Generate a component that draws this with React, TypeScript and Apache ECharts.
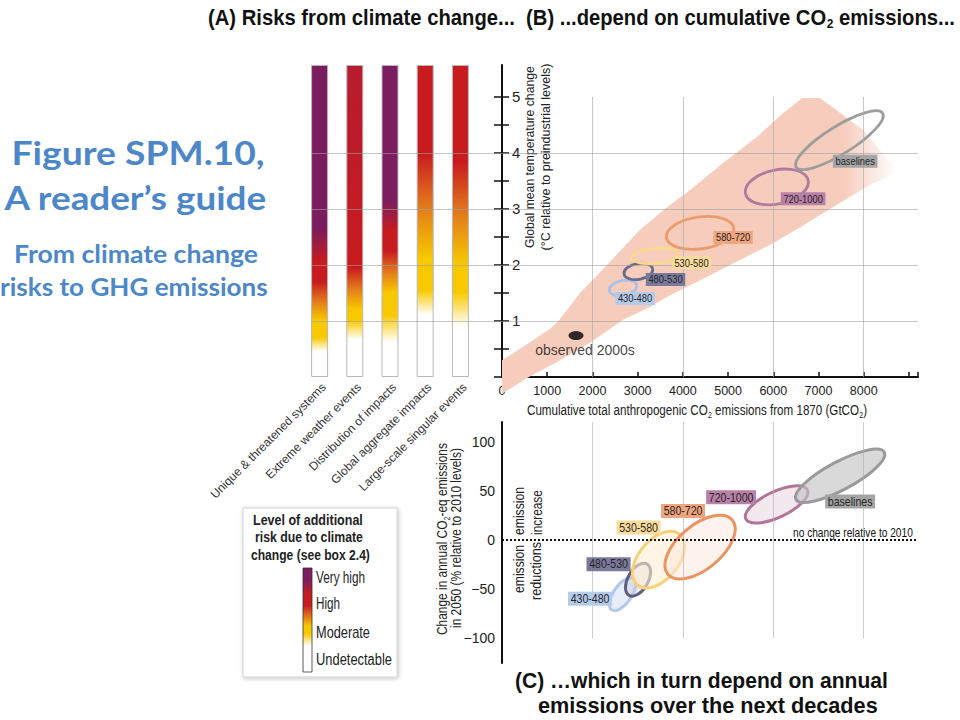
import React, { useEffect, useRef } from 'react';
import * as echarts from 'echarts';

const ARIAL = "'Liberation Sans',Arial,Helvetica,sans-serif";
const HUMANIST = "Lato,'Open Sans',sans-serif";

// ---------- Panel A: risk categories ----------
const riskCategories = [
  'Unique & threatened systems',
  'Extreme weather events',
  'Distribution of impacts',
  'Global aggregate impacts',
  'Large-scale singular events',
];
const riskLevels = ['Very high', 'High', 'Moderate', 'Undetectable'];
// warming (degC) over which the risk level changes, [start, end]
const moderateOnset = [[0.45, 0.7], [0.66, 1.0], [0.61, 1.1], [1.1, 1.55], [0.9, 1.5]];
const highOnset = [[1.0, 1.7], [1.2, 1.95], [1.5, 2.25], [2.1, 4.0], [2.0, 3.85]];
const veryHighOnset: (number[] | null)[] = [[2.05, 2.65], null, [2.6, 3.15], null, null];

// ---------- Panel B: warming vs cumulative emissions ----------
const TEMP_TOP = 5.57;
const tempLabels = [1, 2, 3, 4, 5];
const tempTickMarks = [0, 0.5, 1, 1.5, 2, 2.5, 3, 3.5, 4, 4.5, 5];
const tempGridLines = [1, 2, 3, 4];
const tempGridTop = 5;
const emissionGridLines = [2000, 4000, 6000, 8000];
const emissionLabelMax = 8000;
const plumeUpper = [
  [0, 0.3], [300, 0.45], [1062, 0.86], [1250, 1.0], [1726, 1.5], [2323, 2.0], [3053, 2.63],
  [3600, 3.0], [4159, 3.34], [4889, 3.82], [5642, 4.29], [6217, 4.71], [6637, 4.98], [7035, 4.98],
  [7987, 4.41],
];
const plumeLower = [
  [8761, 3.66], [8208, 3.46], [7478, 3.11], [6748, 2.75], [5996, 2.39], [5265, 2.09], [4535, 1.79],
  [3717, 1.46], [3274, 1.25], [2677, 1.02], [1947, 0.61], [1217, 0.27], [553, -0.02], [22, -0.29],
  [0, -0.3],
];
const observed2000s = [1637, 0.74];

const scenarios = ['430-480', '480-530', '530-580', '580-720', '720-1000', 'baselines'];
// ellipse major-axis end points (cumulative GtCO2, degC) and minor/major ratio
const tempEllipseStart = [[2374, 1.54], [2699, 1.84], [2878, 2.125], [3635, 2.49], [5385, 3.274], [6505, 3.745]];
const tempEllipseEnd = [[2980, 1.64], [3332, 1.93], [3892, 2.196], [5126, 2.655], [6770, 3.512], [8419, 4.709]];
const tempEllipseRatio = [0.53, 0.55, 0.33, 0.47, 0.53, 0.27];
const tempLabelAt = [[2942, 1.4], [3617, 1.74], [4192, 2.04], [5111, 2.49], [6659, 3.18], [7810, 3.85]];

// ---------- Panel C: change in annual emissions 2050 ----------
const emisChangeTicks = [-100, -50, 0, 50, 100];
const emisEllipseStart = [[2425, -71.0], [2810, -56.2], [2993, -45.7], [3668, -34.7], [5392, 21.5], [6502, 41.3]];
const emisEllipseEnd = [[2907, -39.2], [3208, -24.4], [3931, 5.9], [5093, 20.4], [6754, 50.9], [8454, 89.3]];
const emisEllipseRatio = [0.47, 0.56, 0.6, 0.52, 0.38, 0.28];
const emisLabelAt = [[1947, -59.7], [2356, -24.5], [3020, 12.8], [4004, 29.6], [5066, 43.4], [7699, 39.3]];

// ---------- styles ----------
const PURPLE = '#7b1d5e';
const RED = '#c81b1f';
const CRIMSON = '#b71c2f';
const ORANGE = '#e27a1c';
const YELLOW = '#f8c900';
const WHITE = '#ffffff';
const scenarioStroke = ['#a9c1e6', '#6c6a8c', '#f9d88a', '#ec9b6d', '#b07b9e', '#9d9d9d'];
const scenarioStrokeC = ['#b3c8ea', '#5f5d80', '#f9cf78', '#eb9463', '#b07599', '#9a9a9a'];
const scenarioFill = [
  'rgba(205,218,242,0.45)', 'rgba(205,203,222,0.45)', 'rgba(253,238,210,0.6)',
  'rgba(252,232,220,0.55)', 'rgba(238,220,231,0.65)', 'rgba(196,196,196,0.65)',
];
const scenarioBox = ['#b5cbea', '#7b799b', '#fcdc9b', '#f0a57f', '#b980a7', '#a5a5a5'];

let measureCtx: CanvasRenderingContext2D | null = null;
function measure(text: string, size: number, weight: string, family: string) {
  if (!measureCtx) measureCtx = document.createElement('canvas').getContext('2d');
  if (!measureCtx) return text.length * size * 0.5;
  measureCtx.font = `${weight} ${size}px ${family}`;
  return measureCtx.measureText(text).width;
}

type Part = [string, number, number];
function runText(o: {
  x: number; y: number; parts: Part[]; width?: number; align?: 'left' | 'center' | 'right';
  weight?: string; family?: string; fill?: string; rotation?: number;
}) {
  const weight = o.weight || 'normal';
  const family = o.family || ARIAL;
  const ws = o.parts.map(([t, s]) => measure(t, s, weight, family));
  const total = ws.reduce((a, b) => a + b, 0);
  const sx = o.width ? o.width / total : 1;
  const full = total * sx;
  const align = o.align || 'left';
  let cur = align === 'left' ? 0 : align === 'center' ? -full / 2 : -full;
  const children = o.parts.map(([t, s, dy], k) => {
    const el = {
      type: 'text', x: cur, y: dy, scaleX: sx,
      style: {
        text: t, fontSize: s, fontWeight: weight, fontFamily: family, fill: o.fill || '#222',
        align: 'left', verticalAlign: 'middle',
      },
    };
    cur += ws[k] * sx;
    return el;
  });
  return { type: 'group', x: o.x, y: o.y, rotation: o.rotation || 0, silent: true, children };
}

function riskGradient(i: number) {
  const off = (t: number) => Math.min(1, Math.max(0, 1 - t / TEMP_TOP));
  const vh = veryHighOnset[i];
  const h = highOnset[i];
  const m = moderateOnset[i];
  const stops: { offset: number; color: string }[] = [];
  if (vh) {
    stops.push({ offset: 0, color: PURPLE }, { offset: off(vh[1]), color: PURPLE }, { offset: off(vh[0]), color: RED });
  } else {
    stops.push({ offset: 0, color: i === 1 ? CRIMSON : RED });
  }
  stops.push(
    { offset: off(h[1]), color: RED },
    { offset: off((h[0] + h[1]) / 2), color: ORANGE },
    { offset: off(h[0]), color: YELLOW },
    { offset: off(m[1]), color: YELLOW },
    { offset: off(m[0]), color: WHITE },
    { offset: 1, color: WHITE },
  );
  return new echarts.graphic.LinearGradient(0, 0, 0, 1, stops);
}

function ellipseRenderer(strokes: string[], fills: string[] | null, lw: number) {
  return (params: any, api: any) => {
    const i = params.dataIndex;
    const p1 = api.coord([api.value(0), api.value(1)]);
    const p2 = api.coord([api.value(2), api.value(3)]);
    const ratio = api.value(4);
    const dx = p2[0] - p1[0];
    const dy = p2[1] - p1[1];
    const rx = Math.hypot(dx, dy) / 2;
    return {
      type: 'ellipse',
      x: (p1[0] + p2[0]) / 2,
      y: (p1[1] + p2[1]) / 2,
      rotation: Math.atan2(-dy, dx),
      shape: { cx: 0, cy: 0, rx, ry: rx * ratio },
      style: { fill: fills ? fills[i] : 'none', stroke: strokes[i], lineWidth: lw },
    };
  };
}

function labelRenderer(fontSize: number, sx: number) {
  return (params: any, api: any) => {
    const i = params.dataIndex;
    const p = api.coord([api.value(0), api.value(1)]);
    return {
      type: 'text',
      x: p[0],
      y: p[1],
      scaleX: sx,
      style: {
        text: scenarios[i],
        fill: '#262626',
        fontSize,
        fontFamily: ARIAL,
        align: 'center',
        verticalAlign: 'middle',
        backgroundColor: scenarioBox[i],
        padding: [1, 3, 1, 3],
      },
    };
  };
}

function buildOption() {
  const legendGradient = new echarts.graphic.LinearGradient(0, 0, 0, 1, [
    { offset: 0, color: PURPLE },
    { offset: 0.12, color: PURPLE },
    { offset: 0.25, color: RED },
    { offset: 0.36, color: RED },
    { offset: 0.47, color: ORANGE },
    { offset: 0.56, color: YELLOW },
    { offset: 0.63, color: YELLOW },
    { offset: 0.75, color: WHITE },
    { offset: 1, color: WHITE },
  ]);
  const plumeGradient = new echarts.graphic.LinearGradient(0, 0, 1, 0, [
    { offset: 0, color: 'rgba(246,205,189,1)' },
    { offset: 0.86, color: 'rgba(246,205,189,1)' },
    { offset: 1, color: 'rgba(246,205,189,0)' },
  ]);
  const plumePoints = plumeUpper.concat(plumeLower);
  const legendY = [577, 603, 632, 659];
  const legendW = [49, 24, 54, 76];
  const R90 = Math.PI / 2;
  const tickLine = { color: '#111', width: 1.5 };

  return {
    animation: false,
    backgroundColor: '#ffffff',
    grid: [
      { left: 502, top: 65, width: 416, height: 312 },
      { left: 502, top: 422, width: 416, height: 241 },
      { left: 302, top: 65, width: 176, height: 312 },
      { left: 311, top: 65, width: 607, height: 312 },
    ],
    xAxis: [
      {
        gridIndex: 0, type: 'value', min: 0, max: 9200, interval: 1000,
        axisLine: { lineStyle: { color: '#111', width: 2 } },
        axisTick: { show: true, inside: true, length: 5, lineStyle: tickLine },
        axisLabel: {
          formatter: (v: number) => (v > emissionLabelMax ? '' : String(v)),
          color: '#222', fontSize: 12.5, fontFamily: ARIAL, margin: 7,
        },
        splitLine: { show: false },
      },
      { gridIndex: 1, type: 'value', min: 0, max: 9200, show: false },
      {
        gridIndex: 2, type: 'category', data: riskCategories,
        axisLine: { show: false }, axisTick: { show: false }, splitLine: { show: false },
        axisLabel: {
          interval: 0, rotate: 45, margin: 4, verticalAlign: 'top',
          fontSize: 12, fontFamily: ARIAL, color: '#333',
        },
      },
      { gridIndex: 3, type: 'value', min: 0, max: 1, show: false },
    ],
    yAxis: [
      {
        gridIndex: 0, type: 'value', min: 0, max: TEMP_TOP, interval: 1, position: 'left',
        axisLine: { show: true, lineStyle: { color: '#111', width: 2 } },
        axisTick: { show: true, length: 8, customValues: tempTickMarks, lineStyle: tickLine },
        axisLabel: {
          inside: true, margin: 10, color: '#222', fontSize: 15, fontFamily: ARIAL,
          customValues: tempLabels,
          formatter: (v: number) => String(v),
        },
        splitLine: { show: false },
      },
      {
        gridIndex: 1, type: 'value', min: -125, max: 120,
        axisLine: { show: true, onZero: false, lineStyle: { color: '#111', width: 2 } },
        axisTick: { show: false },
        splitLine: { show: false },
        axisLabel: {
          customValues: emisChangeTicks,
          formatter: (v: number) => (v < 0 ? '\u2212' + Math.abs(v) : String(v)),
          color: '#222', fontSize: 14, fontFamily: ARIAL, margin: 7,
        },
      },
      { gridIndex: 2, type: 'value', min: 0, max: TEMP_TOP, show: false },
      { gridIndex: 3, type: 'value', min: 0, max: TEMP_TOP, show: false },
      {
        // inner half of the crossing ticks on the temperature axis
        gridIndex: 0, type: 'value', min: 0, max: TEMP_TOP, interval: 1, position: 'left', offset: 0,
        axisLine: { show: false },
        axisTick: { show: true, inside: true, length: 7, customValues: tempTickMarks, lineStyle: tickLine },
        axisLabel: { show: false },
        splitLine: { show: false },
      },
    ],
    series: [
      // plume
      {
        type: 'custom', xAxisIndex: 0, yAxisIndex: 0, z: 1, silent: true,
        data: [[0, 0]],
        renderItem: (_p: any, api: any) => ({
          type: 'polygon',
          shape: { points: plumePoints.map((pt) => api.coord(pt)) },
          style: { fill: plumeGradient },
        }),
      },
      // bars of panel A
      {
        type: 'bar', xAxisIndex: 2, yAxisIndex: 2, barWidth: 17, z: 2, silent: true,
        itemStyle: { borderColor: '#b8b8b8', borderWidth: 1 },
        data: riskCategories.map((_c, i) => ({ value: TEMP_TOP, itemStyle: { color: riskGradient(i) } })),
      },
      // horizontal temperature grid lines across A and B
      {
        type: 'line', xAxisIndex: 3, yAxisIndex: 3, z: 3, data: [], silent: true,
        markLine: {
          silent: true, symbol: ['none', 'none'], label: { show: false },
          lineStyle: { color: 'rgba(160,160,160,0.6)', width: 1, type: 'solid' },
          data: tempGridLines.map((v) => ({ yAxis: v })),
        },
      },
      // vertical grid lines panel B
      {
        type: 'line', xAxisIndex: 0, yAxisIndex: 0, z: 3, data: [], silent: true,
        markLine: {
          silent: true, symbol: ['none', 'none'], label: { show: false },
          lineStyle: { color: 'rgba(175,175,175,0.7)', width: 1, type: 'solid' },
          data: emissionGridLines.map((x) => [{ coord: [x, 0] }, { coord: [x, tempGridTop] }]),
        },
      },
      // vertical grid lines panel C
      {
        type: 'line', xAxisIndex: 1, yAxisIndex: 1, z: 1, data: [], silent: true,
        markLine: {
          silent: true, symbol: ['none', 'none'], label: { show: false },
          lineStyle: { color: 'rgba(175,175,175,0.6)', width: 1, type: 'solid' },
          data: emissionGridLines.map((x) => [{ coord: [x, -100] }, { coord: [x, 120] }]),
        },
      },
      // zero line panel C
      {
        type: 'line', xAxisIndex: 1, yAxisIndex: 1, z: 3, data: [], silent: true,
        markLine: {
          silent: true, symbol: ['none', 'none'], label: { show: false },
          lineStyle: { color: '#111', width: 2, type: 'dotted' },
          data: [{ yAxis: 0 }],
        },
      },
      // ellipses B
      {
        type: 'custom', xAxisIndex: 0, yAxisIndex: 0, z: 4, silent: true,
        data: tempEllipseStart.map((s, i) => [s[0], s[1], tempEllipseEnd[i][0], tempEllipseEnd[i][1], tempEllipseRatio[i]]),
        renderItem: ellipseRenderer(scenarioStroke, null, 2.8),
      },
      // observed
      {
        type: 'scatter', xAxisIndex: 0, yAxisIndex: 0, z: 5, silent: true,
        symbol: 'circle', symbolSize: [15, 9],
        itemStyle: { color: '#000' },
        label: {
          show: true, position: 'bottom', distance: 3, offset: [9, 0],
          formatter: 'observed 2000s', color: '#111', fontSize: 14, fontFamily: ARIAL,
        },
        data: [observed2000s],
      },
      // labels B
      {
        type: 'custom', xAxisIndex: 0, yAxisIndex: 0, z: 6, silent: true,
        data: tempLabelAt.map((p, i) => [p[0], p[1], i]),
        renderItem: labelRenderer(11, 0.85),
      },
      // ellipses C
      {
        type: 'custom', xAxisIndex: 1, yAxisIndex: 1, z: 4, silent: true,
        data: emisEllipseStart.map((s, i) => [s[0], s[1], emisEllipseEnd[i][0], emisEllipseEnd[i][1], emisEllipseRatio[i]]),
        renderItem: ellipseRenderer(scenarioStrokeC, scenarioFill, 3),
      },
      // labels C
      {
        type: 'custom', xAxisIndex: 1, yAxisIndex: 1, z: 6, silent: true,
        data: emisLabelAt.map((p, i) => [p[0], p[1], i]),
        renderItem: labelRenderer(12, 0.88),
      },
    ],
    graphic: [
      runText({
        x: 208, y: 17, width: 747, weight: 'bold', fill: '#111',
        parts: [['(A) Risks from climate change...  (B) ...depend on cumulative CO', 22, 0], ['2', 13, 7], [' emissions...', 22, 0]],
      }),
      runText({ x: 138, y: 152, width: 253, align: 'center', weight: 'bold', family: HUMANIST, fill: '#4b87c9', parts: [['Figure SPM.10,', 33, 0]] }),
      runText({ x: 136, y: 197, width: 263, align: 'center', weight: 'bold', family: HUMANIST, fill: '#4b87c9', parts: [['A reader\u2019s guide', 33, 0]] }),
      runText({ x: 136, y: 254, width: 244, align: 'center', weight: 'bold', family: HUMANIST, fill: '#4b87c9', parts: [['From climate change', 24, 0]] }),
      runText({ x: 134, y: 286, width: 268, align: 'center', weight: 'bold', family: HUMANIST, fill: '#4b87c9', parts: [['risks to GHG emissions', 24, 0]] }),
      // panel B axis names
      runText({ x: 529, y: 157, width: 182, align: 'center', rotation: R90, parts: [['Global mean temperature change', 13.5, 0]] }),
      runText({ x: 545, y: 157, width: 187, align: 'center', rotation: R90, parts: [['(\u00b0C relative to preindustrial levels)', 13.5, 0]] }),
      runText({
        x: 697, y: 410, width: 340, align: 'center',
        parts: [['Cumulative total anthropogenic CO', 15, 0], ['2', 9, 5], [' emissions from 1870 (GtCO', 15, 0], ['2', 9, 5], [')', 15, 0]],
      }),
      // panel C texts
      runText({
        x: 442, y: 539, width: 192, align: 'center', rotation: R90,
        parts: [['Change in annual CO', 15, 0], ['2', 9, 5], ['-eq emissions', 15, 0]],
      }),
      runText({ x: 456, y: 538, width: 180, align: 'center', rotation: R90, parts: [['in 2050 (% relative to 2010 levels)', 15, 0]] }),
      runText({ x: 518, y: 511, width: 48, align: 'center', rotation: R90, parts: [['emission', 15.5, 0]] }),
      runText({ x: 536, y: 512.5, width: 45, align: 'center', rotation: R90, parts: [['increase', 15.5, 0]] }),
      runText({ x: 518, y: 569, width: 48, align: 'center', rotation: R90, parts: [['emission', 15.5, 0]] }),
      runText({ x: 536, y: 571, width: 58, align: 'center', rotation: R90, parts: [['reductions', 15.5, 0]] }),
      runText({ x: 913, y: 532, width: 120, align: 'right', fill: '#111', parts: [['no change relative to 2010', 13.5, 0]] }),
      runText({ x: 515, y: 681, width: 373, weight: 'bold', fill: '#111', parts: [['(C) \u2026which in turn depend on annual', 22, 0]] }),
      runText({ x: 538, y: 705, width: 340, weight: 'bold', fill: '#111', parts: [['emissions over the next decades', 22, 0]] }),
      // legend
      {
        type: 'rect', silent: true, shape: { x: 243, y: 508, width: 154, height: 169 },
        style: {
          fill: '#fff', stroke: '#d2d2d2', lineWidth: 1,
          shadowBlur: 4, shadowColor: 'rgba(0,0,0,0.25)', shadowOffsetX: 1, shadowOffsetY: 1,
        },
      },
      runText({ x: 308, y: 520, width: 110, align: 'center', weight: 'bold', parts: [['Level of additional', 14.5, 0]] }),
      runText({ x: 309, y: 537.5, width: 108, align: 'center', weight: 'bold', parts: [['risk due to climate', 14.5, 0]] }),
      runText({ x: 310.5, y: 555, width: 119, align: 'center', weight: 'bold', parts: [['change (see box 2.4)', 14.5, 0]] }),
      {
        type: 'rect', silent: true, shape: { x: 303, y: 568, width: 9, height: 104 },
        style: { fill: legendGradient, stroke: '#333', lineWidth: 0.8 },
      },
      ...riskLevels.map((t, k) =>
        runText({ x: 316, y: legendY[k], width: legendW[k], parts: [[t, 16, 0]] }),
      ),
    ],
  };
}

export default function App() {
  const ref = useRef<HTMLDivElement>(null);
  useEffect(() => {
    if (!ref.current) return;
    const chart = echarts.init(ref.current, null, { renderer: 'svg' });
    chart.setOption(buildOption() as any);
    return () => chart.dispose();
  }, []);
  return (
    <div
      ref={ref}
      style={{ position: 'fixed', left: 0, top: 0, width: 960, height: 720, background: '#fff' }}
    />
  );
}
